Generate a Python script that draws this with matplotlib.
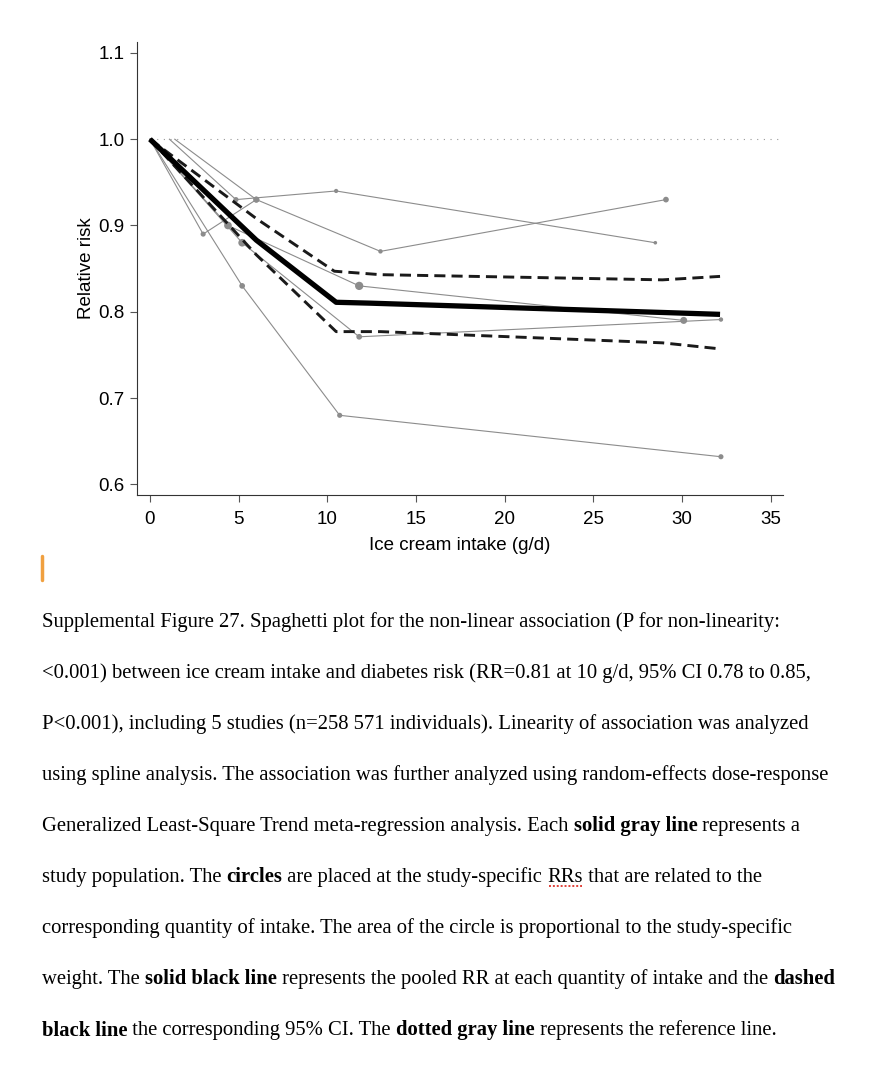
import numpy as np
import matplotlib
matplotlib.use('Agg')
import matplotlib.pyplot as plt
from matplotlib.lines import Line2D

## study-specific relative risks (first point = reference category)
s1_x = [1.1, 4.85, 10.5, 28.5]
s1_rr = [1.0, 0.93, 0.94, 0.88]
s1_w = [0, 16, 11, 8]

s2_x = [1.4, 6.0, 13.0, 29.1]
s2_rr = [1.0, 0.93, 0.87, 0.93]
s2_w = [0, 22, 12, 20]

s3_x = [0, 3.0, 6.0]
s3_rr = [1.0, 0.89, 0.93]
s3_w = [0, 16, 22]

s4_x = [0, 4.4, 11.8, 30.1]
s4_rr = [1.0, 0.90, 0.83, 0.79]
s4_w = [0, 36, 42, 30]

s5_x = [0, 5.2, 11.8, 32.2]
s5_rr = [1.0, 0.88, 0.771, 0.791]
s5_w = [0, 36, 20, 12]

s6_x = [0, 5.2, 10.7, 32.2]
s6_rr = [1.0, 0.83, 0.68, 0.632]
s6_w = [0, 20, 16, 16]

studies = [(s1_x, s1_rr, s1_w), (s2_x, s2_rr, s2_w), (s3_x, s3_rr, s3_w),
           (s4_x, s4_rr, s4_w), (s5_x, s5_rr, s5_w), (s6_x, s6_rr, s6_w)]

## pooled curve and 95% CI
pooled_x = [0, 6.0, 10.5, 12.4, 29.2, 32.15]
pooled_rr = [1.0, 0.883, 0.811, 0.810, 0.799, 0.797]
upper_x = [0, 6.0, 10.4, 13.0, 28.9, 32.15]
upper_rr = [1.0, 0.908, 0.847, 0.843, 0.837, 0.841]
lower_x = [0, 6.0, 10.5, 13.0, 28.9, 32.15]
lower_rr = [1.0, 0.866, 0.777, 0.777, 0.764, 0.757]

xticks = [0, 5, 10, 15, 20, 25, 30, 35]
yticks = [0.6, 0.7, 0.8, 0.9, 1.0, 1.1]

caption = [
    [('Supplemental Figure 27. Spaghetti plot for the non-linear association (P for non-linearity:', 'n')],
    [('<0.001) between ice cream intake and diabetes risk (RR=0.81 at 10 g/d, 95% CI 0.78 to 0.85,', 'n')],
    [('P<0.001), including 5 studies (n=258 571 individuals). Linearity of association was analyzed', 'n')],
    [('using spline analysis. The association was further analyzed using random-effects dose-response', 'n')],
    [('Generalized Least-Square Trend meta-regression analysis. Each ', 'n'), ('solid gray line', 'b'),
     (' represents a', 'n')],
    [('study population. The ', 'n'), ('circles', 'b'), (' are placed at the study-specific ', 'n'),
     ('RRs', 'u'), (' that are related to the', 'n')],
    [('corresponding quantity of intake. The area of the circle is proportional to the study-specific', 'n')],
    [('weight. The ', 'n'), ('solid black line', 'b'),
     (' represents the pooled RR at each quantity of intake and the ', 'n'), ('dashed', 'b')],
    [('black line', 'b'), (' the corresponding 95% CI. The ', 'n'), ('dotted gray line', 'b'),
     (' represents the reference line.', 'n')],
]

W, H = 884, 1066
fig = plt.figure(figsize=(W / 100, H / 100), dpi=100)
ax = fig.add_axes([137 / W, 1 - 494.7 / H, 646 / W, 453 / H])

gray = '#8c8c8c'
for x, rr, w in studies:
    ax.plot(x, rr, color=gray, lw=0.8, zorder=2)
    x = np.array(x)
    rr = np.array(rr)
    w = np.array(w, dtype=float)
    m = rr < 1.0
    ax.scatter(x[m], rr[m], s=w[m] * 0.85, color=gray, linewidths=0, zorder=3)

ax.plot(upper_x, upper_rr, color='#1a1a1a', lw=2.1, ls=(0, (3.8, 2.1)), zorder=4)
ax.plot(lower_x, lower_rr, color='#1a1a1a', lw=2.1, ls=(0, (3.8, 2.1)), zorder=4)
ax.plot(pooled_x, pooled_rr, color='black', lw=3.8, zorder=5, solid_capstyle='butt')

ax.set_xlim(-0.73, 35.7)
ax.set_ylim(0.588, 1.113)
ax.hlines(1.0, 0, ax.get_xlim()[1], color='#999999', lw=0.8, ls=(0, (1, 5)), zorder=1)

for s in ['top', 'right']:
    ax.spines[s].set_visible(False)
for s in ['left', 'bottom']:
    ax.spines[s].set_linewidth(0.8)
    ax.spines[s].set_color('#333333')

ax.set_xticks(xticks)
ax.set_yticks(yticks)
ax.set_yticklabels(['{:.1f}'.format(v) for v in yticks])
ax.tick_params(direction='out', length=5, width=0.8, color='#555555', pad=4,
               labelsize=13.5, labelfontfamily='Liberation Sans')
ax.tick_params(axis='x', pad=6.5)
ax.set_xlabel('Ice cream intake (g/d)', fontsize=13.5, family='Liberation Sans', labelpad=7)
ax.set_ylabel('Relative risk', fontsize=13.5, family='Liberation Sans', labelpad=2)

## caption, placed piece by piece so bold words sit inline
rend = fig.canvas.get_renderer()
fs = 14.9


def advance(txt, weight):
    a = fig.text(0, 0, txt + '|', fontsize=fs, family='Liberation Serif', weight=weight)
    b = fig.text(0, 0, '|', fontsize=fs, family='Liberation Serif', weight=weight)
    d = a.get_window_extent(rend).width - b.get_window_extent(rend).width
    a.remove()
    b.remove()
    return d


for i, line in enumerate(caption):
    ypx = 626.7 + 51.1 * i
    xpx = 42
    for txt, style in line:
        weight = 'bold' if style == 'b' else 'normal'
        fig.text(xpx / W, 1 - ypx / H, txt, fontsize=fs, family='Liberation Serif',
                 weight=weight, va='baseline', ha='left')
        adv = advance(txt, weight)
        if style == 'u':
            fig.add_artist(Line2D([(xpx + 1) / W, (xpx + adv - 1) / W], [1 - (ypx + 4) / H] * 2,
                                  color='#e04038', lw=1.4, ls=(0, (1, 1))))
        xpx += adv

## text cursor
fig.add_artist(Line2D([42 / W, 42 / W], [1 - 556 / H, 1 - 580 / H], color='#f0a040',
                      lw=2.5, solid_capstyle='round'))

fig.savefig('out.png', dpi=100)
